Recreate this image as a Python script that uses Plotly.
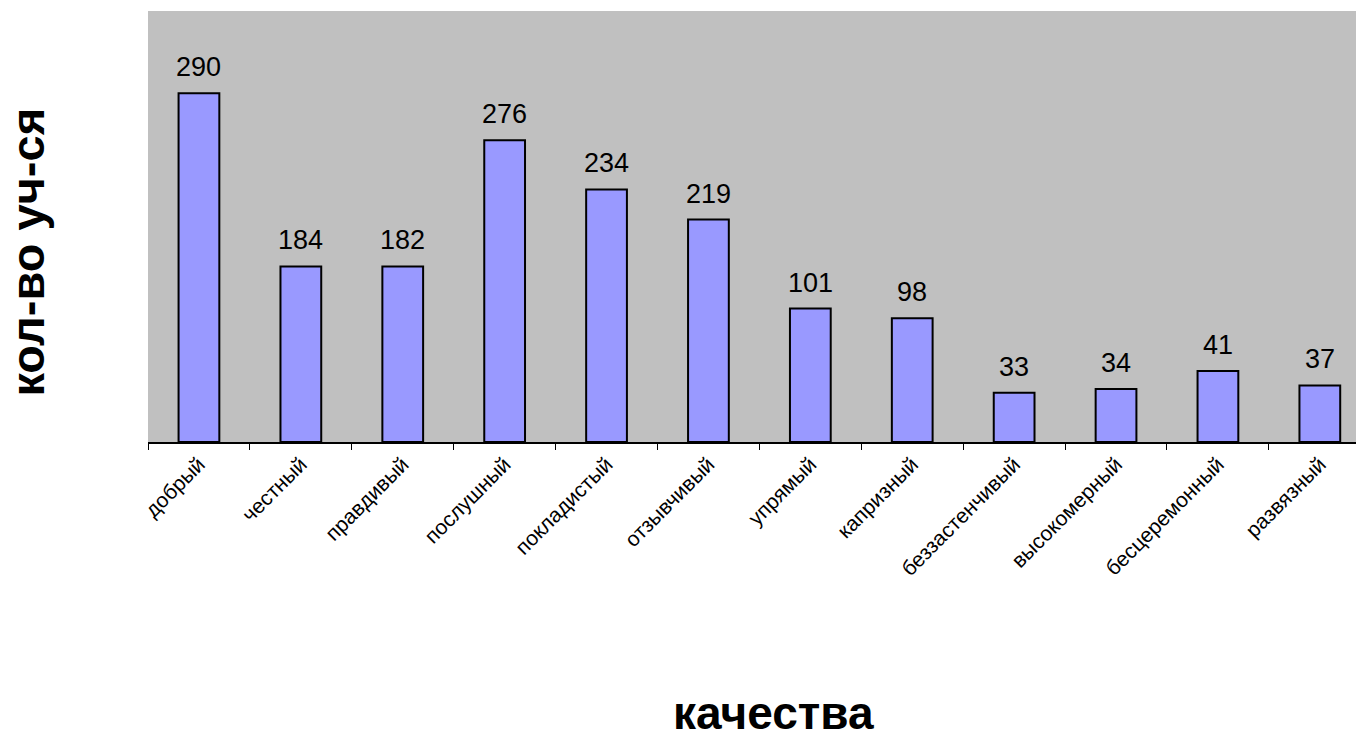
import plotly.graph_objects as go

categories = ["добрый", "честный", "правдивый", "послушный", "покладистый", "отзывчивый",
              "упрямый", "капризный", "беззастенчивый", "высокомерный", "бесцеремонный", "развязный"]
# value labels shown above the bars
count_labels = [290, 184, 182, 276, 234, 219, 101, 98, 33, 34, 41, 37]
# bar heights as drawn in the picture (estimated, same units as the top label)
bar_heights = [290, 146, 146, 251, 210, 185, 111, 103, 41, 44, 59, 47]

y_title = "кол-во уч-ся"
x_title = "качества"

FONT = "Liberation Sans, Arial"

fig = go.Figure()
fig.add_trace(go.Bar(
    x=categories,
    y=bar_heights,
    width=0.4,
    marker=dict(color="#9999FF", line=dict(color="black", width=2)),
    hoverinfo="skip",
))

for c, h, lab in zip(categories, bar_heights, count_labels):
    fig.add_annotation(x=c, y=h, text=str(lab), showarrow=False,
                       xref="x", yref="y", yanchor="bottom", yshift=9,
                       font=dict(family=FONT, size=27, color="black"))

fig.add_annotation(text="<b>" + y_title + "</b>", xref="paper", yref="paper", x=-0.1, y=0.44,
                   showarrow=False, textangle=-90, xanchor="center", yanchor="middle",
                   font=dict(family=FONT, size=47, color="black"))
fig.add_annotation(text="<b>" + x_title + "</b>", xref="paper", yref="paper", x=0.518, y=-0.692,
                   showarrow=False, xanchor="center", yanchor="bottom", borderpad=0,
                   font=dict(family=FONT, size=46, color="black"))

fig.update_layout(
    width=1356, height=741,
    margin=dict(l=148, r=0, t=11, b=299, pad=0),
    paper_bgcolor="white",
    plot_bgcolor="#C0C0C0",
    showlegend=False,
    font=dict(family=FONT, color="black"),
)
fig.update_xaxes(
    range=[-0.5, 11.355],
    tickson="boundaries",
    ticks="outside", ticklen=6, tickwidth=1, tickcolor="black",
    showline=True, linecolor="black", linewidth=1.5,
    tickangle=-45,
    tickfont=dict(family=FONT, size=21, color="black"),
    showgrid=False, zeroline=False,
)
fig.update_yaxes(
    range=[0, 358.4],
    showticklabels=False, showgrid=False, zeroline=False, showline=False, ticks="",
)

fig.write_html("out.html", config={"displayModeBar": False},
               post_script="document.body.style.margin='0';document.body.style.overflow='hidden';")
